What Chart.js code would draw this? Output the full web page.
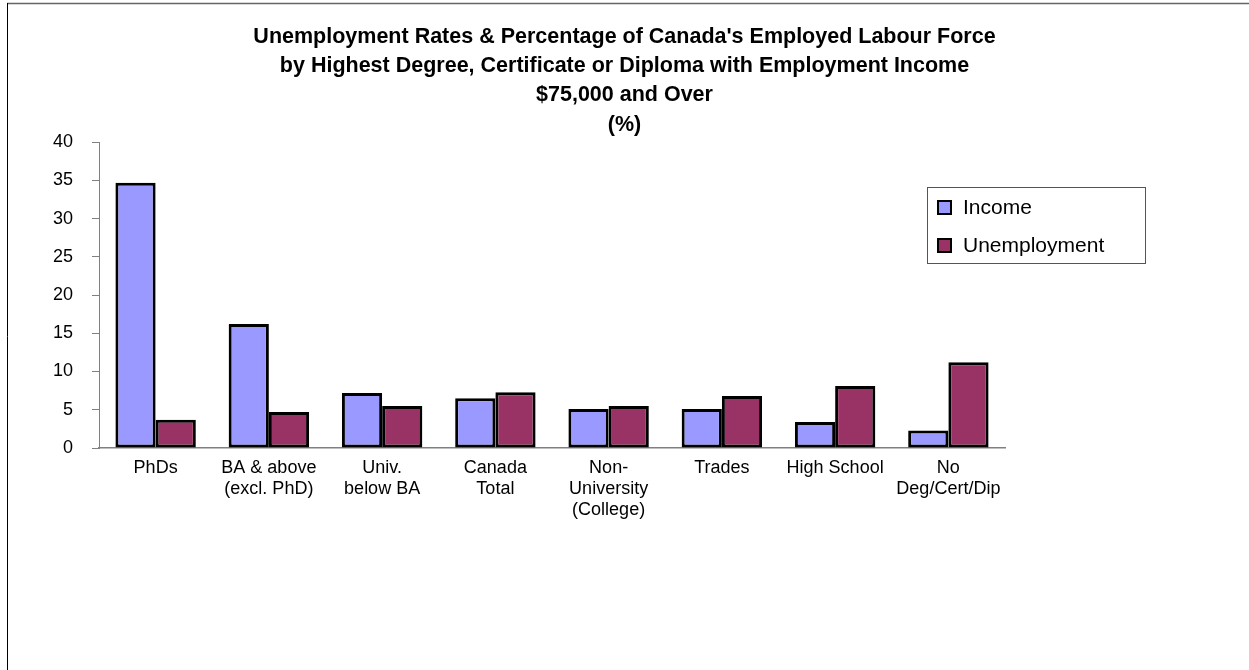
<!DOCTYPE html>
<html>
<head>
<meta charset="utf-8">
<script src="https://cdn.jsdelivr.net/npm/chart.js@4.4.1/dist/chart.umd.min.js"></script>
<style>
    html, body { margin: 0; padding: 0; background: #fff; }
    #wrap { width: 1249px; height: 670px; position: relative; }
</style>
</head>
<body>
<div id="wrap"><canvas id="myChart" width="1249" height="670"></canvas></div>
<script>
// categories (x axis, multi-line)
const categories = [
    ['PhDs'],
    ['BA & above', '(excl. PhD)'],
    ['Univ.', 'below BA'],
    ['Canada', 'Total'],
    ['Non-', 'University', '(College)'],
    ['Trades'],
    ['High School'],
    ['No', 'Deg/Cert/Dip']
];
const seriesNames = ['Income', 'Unemployment'];
const incomeValues = [34.7, 16.2, 7.2, 6.5, 5.1, 5.1, 3.4, 2.3];
const unemploymentValues = [3.7, 4.7, 5.5, 7.3, 5.5, 6.8, 8.1, 11.2];
const yTicks = [0, 5, 10, 15, 20, 25, 30, 35, 40];
const titleLines = [
    "Unemployment Rates & Percentage of Canada's Employed Labour Force",
    'by Highest Degree, Certificate or Diploma with Employment Income',
    '$75,000 and Over',
    '(%)'
];

Chart.defaults.font.family = '"Liberation Sans", Arial, sans-serif';
Chart.defaults.color = '#000';

// 바깥 테두리 (위, 왼쪽) + 범례 상자
const framePlugin = {
    id: 'frameAndLegend',
    afterDraw(chart) {
        const { ctx } = chart;
        ctx.save();
        ctx.strokeStyle = '#666';
        ctx.lineWidth = 1.5;
        ctx.beginPath();
        ctx.moveTo(7, 3.5);
        ctx.lineTo(1249, 3.5);
        ctx.stroke();
        ctx.strokeStyle = '#000';
        ctx.lineWidth = 1;
        ctx.beginPath();
        ctx.moveTo(7.5, 3);
        ctx.lineTo(7.5, 670);
        ctx.stroke();

        // legend box
        ctx.strokeStyle = '#555';
        ctx.lineWidth = 1;
        ctx.strokeRect(927.5, 187.5, 218, 76);
        ctx.font = '21px "Liberation Sans", Arial, sans-serif';
        ctx.textBaseline = 'middle';
        ctx.textAlign = 'left';
        chart.data.datasets.forEach((ds, i) => {
            const cy = 207 + i * 38;
            ctx.fillStyle = ds.backgroundColor;
            ctx.fillRect(938, cy - 6, 13, 13);
            ctx.strokeStyle = '#000';
            ctx.lineWidth = 2;
            ctx.strokeRect(938, cy - 6, 13, 13);
            ctx.fillStyle = '#000';
            ctx.fillText(ds.label, 963, cy + 1);
        });
        ctx.restore();
    }
};

var ctx = document.getElementById('myChart').getContext('2d');
window.chartInstance = new Chart(ctx, {
    type: 'bar',
    data: {
        labels: categories,
        datasets: [{
            label: seriesNames[0],
            data: incomeValues,
            backgroundColor: '#9999FF',
            borderColor: '#000',
            borderWidth: 3,
            borderSkipped: false
        }, {
            label: seriesNames[1],
            data: unemploymentValues,
            backgroundColor: '#993366',
            borderColor: '#000',
            borderWidth: 3,
            borderSkipped: false
        }]
    },
    options: {
        responsive: false,
        maintainAspectRatio: false,
        animation: false,
        datasets: {
            bar: {
                categoryPercentage: 0.71,
                barPercentage: 1.0
            }
        },
        layout: {
            padding: 0
        },
        scales: {
            x: {
                grid: { display: false, drawTicks: false },
                border: { display: true, color: '#808080', width: 1.5 },
                ticks: {
                    maxRotation: 0,
                    autoSkip: false,
                    padding: 10,
                    font: { size: 18, lineHeight: 1.15 }
                },
                afterFit(scale) { scale.height = 222; }
            },
            y: {
                min: 0,
                max: 40,
                afterBuildTicks(scale) {
                    scale.ticks = yTicks.map(v => ({ value: v }));
                },
                grid: {
                    drawOnChartArea: false,
                    drawTicks: true,
                    tickLength: 7,
                    color: '#808080'
                },
                border: { display: true, color: '#808080', width: 1 },
                ticks: {
                    padding: 19,
                    font: { size: 18 }
                },
                afterFit(scale) { scale.width = 99; }
            },
            // 빈 오른쪽 축: 플롯 영역을 1005px 에서 끝나게 함 (제목은 전체 폭 중앙)
            yRight: {
                position: 'right',
                min: 0,
                max: 40,
                grid: { display: false, drawTicks: false },
                border: { display: false },
                ticks: { display: false },
                afterFit(scale) { scale.width = 244; }
            }
        },
        plugins: {
            legend: { display: false },
            tooltip: { enabled: false },
            title: {
                display: true,
                text: titleLines,
                font: { size: 21.5, weight: 'bold', lineHeight: 1.35 },
                color: '#000',
                padding: { top: 23, bottom: 3 }
            }
        }
    },
    plugins: [framePlugin]
});
</script>
</body>
</html>
